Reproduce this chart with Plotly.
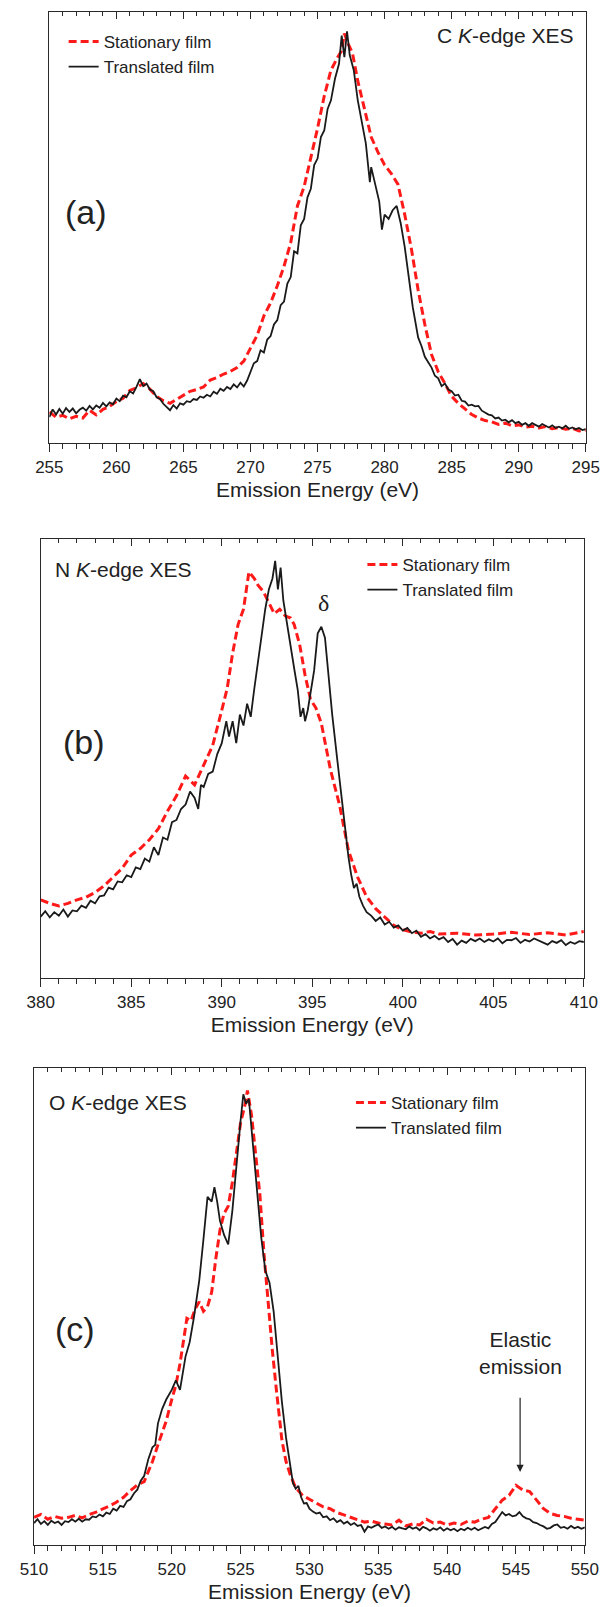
import plotly.graph_objects as go

# ---------------- Data (y in % of panel height) -------------
# Panel (a): C K-edge XES -- translated film as (energy, intensity) pairs
A_TRANS = [
    (255, 6.0), (255.25, 7.8), (255.5, 6.6), (255.75, 7.9), (256, 6.8), (256.25, 8.1), (256.5, 7.2),
    (256.75, 8.0), (257, 6.9), (257.25, 7.7), (257.5, 8.2), (257.75, 7.5), (258, 8.6), (258.25, 7.8),
    (258.5, 8.7), (258.75, 8.2), (259, 9.3), (259.25, 8.5), (259.5, 9.4), (259.75, 9.0), (260, 10.3),
    (260.25, 9.7), (260.5, 11.0), (260.75, 10.6), (261, 12.0), (261.25, 11.5), (261.5, 13.0),
    (261.75, 14.8), (262, 13.2), (262.25, 13.8), (262.5, 12.4), (262.75, 12.0), (263, 10.6),
    (263.25, 10.2), (263.5, 9.1), (263.75, 8.4), (264, 7.6), (264.25, 8.8), (264.5, 8.0),
    (264.75, 9.2), (265, 8.9), (265.25, 9.7), (265.5, 9.5), (265.75, 10.2), (266, 10.0),
    (266.25, 10.8), (266.5, 10.5), (266.75, 11.2), (267, 10.8), (267.25, 11.9), (267.5, 11.4),
    (267.75, 12.6), (268, 12.1), (268.25, 13.0), (268.5, 12.5), (268.75, 13.6), (269, 12.9),
    (269.25, 14.0), (269.5, 13.1), (269.75, 14.5), (270, 16.5), (270.25, 18.5), (270.5, 19.0),
    (270.75, 21.5), (271, 21.0), (271.25, 24.0), (271.5, 24.8), (271.75, 27.5), (272, 28.5),
    (272.25, 32.0), (272.5, 32.8), (272.75, 37.0), (273, 38.5), (273.25, 44.5), (273.5, 44.0),
    (273.75, 50.5), (274, 52.0), (274.25, 57.0), (274.5, 59.0), (274.75, 64.5), (275, 66.0),
    (275.25, 71.0), (275.5, 72.5), (275.75, 77.5), (276, 79.5), (276.3, 84.5), (276.6, 88.0),
    (276.8, 94.5), (277, 89.5), (277.2, 95.5), (277.4, 90.0), (277.7, 86.5), (278, 79.5),
    (278.3, 74.0), (278.6, 69.5), (278.9, 60.5), (279, 64.0), (279.3, 60.0), (279.6, 56.0),
    (279.8, 49.5), (280, 53.0), (280.3, 52.0), (280.6, 54.0), (280.9, 55.0), (281.2, 51.0),
    (281.5, 45.5), (281.8, 39.0), (282.1, 31.5), (282.5, 24.5), (282.75, 22.5), (283, 20.0),
    (283.25, 18.8), (283.5, 17.5), (283.75, 15.6), (284, 15.0), (284.25, 13.2), (284.5, 13.8),
    (284.75, 12.4), (285, 12.0), (285.25, 11.0), (285.5, 11.2), (285.75, 9.8), (286, 9.6),
    (286.25, 8.7), (286.5, 8.9), (286.75, 8.5), (287, 8.6), (287.25, 7.5), (287.5, 7.1),
    (287.75, 6.6), (288, 6.4), (288.25, 5.7), (288.5, 5.9), (288.75, 5.2), (289, 5.4),
    (289.25, 4.8), (289.5, 5.3), (289.75, 4.6), (290, 4.9), (290.25, 4.2), (290.5, 4.6),
    (290.75, 4.0), (291, 4.6), (291.25, 4.1), (291.5, 3.8), (291.75, 4.4), (292, 4.0),
    (292.25, 3.6), (292.5, 4.1), (292.75, 3.5), (293, 3.8), (293.25, 3.4), (293.5, 4.0),
    (293.75, 3.3), (294, 3.6), (294.25, 3.2), (294.5, 3.5), (294.75, 3.0), (295, 3.2),
]
A_X_STAT = [255, 255.5, 256, 256.5, 257, 257.5, 258, 258.5, 259, 259.5, 260, 260.5, 261, 261.5, 262,
            262.5, 263, 263.5, 264, 264.5, 265, 265.5, 266, 266.5, 267, 267.5, 268, 268.5, 269, 269.5,
            270, 270.5, 271, 271.5, 272, 272.5, 273, 273.5, 274, 274.5, 275, 275.5, 276, 276.5, 276.8,
            277, 277.3, 277.6, 278, 278.5, 279, 279.5, 280, 280.5, 281, 281.5, 282, 282.5, 283, 283.5,
            284, 284.5, 285, 285.5, 286, 286.5, 287, 287.5, 288, 288.5, 289, 289.5, 290, 290.5, 291,
            291.5, 292, 292.5, 293, 293.5, 294, 294.5, 295]
A_Y_STAT = [7.2, 6.0, 6.4, 5.6, 6.2, 5.8, 7.6, 6.5, 7.8, 8.5, 9.6, 10.4, 12.2, 12.8, 13.8,
            12.5, 10.8, 9.8, 9.2, 10.2, 11.0, 12.0, 12.4, 13.0, 14.6, 15.2, 16.0, 16.6, 17.5, 19.0,
            22.0, 25.0, 29.5, 32.5, 36.5, 41.0, 46.5, 55.0, 59.5, 66.0, 73.0, 80.5, 86.5, 89.5, 91.0,
            95.0, 92.5, 90.5, 84.0, 77.5, 71.0, 67.5, 64.5, 62.5, 60.0, 53.0, 45.0, 35.5, 27.5, 20.5,
            16.5, 13.8, 10.8, 9.2, 7.8, 6.6, 5.8, 5.2, 4.9, 4.3, 4.6, 4.0, 4.2, 3.7, 3.9,
            3.5, 3.8, 3.3, 3.6, 3.2, 3.4, 2.8, 3.0]

# Panel (b): N K-edge XES
B_TRANS = [
    (380, 14.0), (380.25, 15.2), (380.5, 13.8), (380.75, 15.0), (381, 14.2), (381.25, 15.6),
    (381.5, 14.0), (381.75, 15.4), (382, 15.2), (382.25, 16.5), (382.5, 16.0), (382.75, 17.6),
    (383, 17.0), (383.25, 18.6), (383.5, 18.8), (383.75, 20.6), (384, 20.2), (384.25, 22.0),
    (384.5, 21.8), (384.75, 23.4), (385, 23.0), (385.25, 25.2), (385.5, 24.8), (385.75, 27.2),
    (386, 26.5), (386.25, 29.8), (386.5, 28.0), (386.75, 32.0), (387, 31.5), (387.25, 35.5),
    (387.5, 36.0), (387.75, 38.5), (388, 39.5), (388.25, 42.5), (388.5, 41.0), (388.7, 38.5),
    (388.85, 44.0), (389, 43.5), (389.25, 46.5), (389.5, 47.0), (389.75, 51.0), (390, 53.5),
    (390.25, 58.5), (390.4, 55.0), (390.6, 58.5), (390.8, 53.5), (391, 60.0), (391.2, 57.5),
    (391.4, 62.5), (391.6, 59.5), (391.8, 66.0), (392, 71.5), (392.2, 78.0), (392.4, 84.0),
    (392.6, 88.5), (392.8, 91.0), (392.95, 95.0), (393.1, 88.5), (393.25, 93.5), (393.4, 86.0),
    (393.6, 80.5), (393.8, 75.0), (394, 70.5), (394.2, 65.5), (394.35, 59.5), (394.5, 61.5),
    (394.6, 58.5), (394.75, 61.0), (394.9, 65.0), (395.1, 70.0), (395.3, 78.5), (395.5, 80.0),
    (395.7, 77.5), (395.9, 68.0), (396.1, 60.0), (396.4, 49.0), (396.7, 38.5), (396.85, 32.0),
    (397, 27.5), (397.15, 23.5), (397.3, 20.5), (397.45, 21.5), (397.6, 18.5), (397.8, 16.5),
    (398, 15.0), (398.25, 14.2), (398.5, 13.0), (398.75, 13.8), (399, 12.2), (399.25, 12.8),
    (399.5, 11.5), (399.75, 12.0), (400, 10.8), (400.25, 11.4), (400.5, 10.2), (400.75, 10.8),
    (401, 9.4), (401.25, 10.0), (401.5, 9.0), (401.75, 9.6), (402, 8.8), (402.25, 9.3),
    (402.5, 8.2), (402.75, 8.9), (403, 7.6), (403.25, 8.5), (403.5, 8.0), (403.75, 8.9),
    (404, 8.4), (404.25, 9.0), (404.5, 8.2), (404.75, 8.8), (405, 8.3), (405.25, 9.0),
    (405.5, 7.9), (405.75, 8.7), (406, 8.6), (406.25, 9.1), (406.5, 8.0), (406.75, 8.7),
    (407, 8.3), (407.25, 9.0), (407.5, 8.5), (407.75, 8.1), (408, 7.6), (408.25, 8.4),
    (408.5, 8.0), (408.75, 8.6), (409, 7.5), (409.25, 8.2), (409.5, 7.8), (409.75, 8.4), (410, 8.2),
]
B_X_STAT = [380, 380.5, 381, 381.5, 382, 382.5, 383, 383.5, 384, 384.5, 385, 385.5, 386, 386.5, 387,
            387.5, 388, 388.5, 389, 389.5, 390, 390.3, 390.6, 390.9, 391.2, 391.5, 391.8, 392, 392.3,
            392.6, 392.9, 393.2, 393.5, 393.8, 394, 394.3, 394.6, 394.9, 395.2, 395.5, 395.8, 396,
            396.5, 397, 397.5, 398, 398.5, 399, 399.5, 400, 400.5, 401, 401.5, 402, 403, 404, 405,
            406, 407, 408, 409, 410]
B_Y_STAT = [17.8, 17.0, 16.4, 17.0, 17.8, 18.4, 19.5, 21.0, 23.0, 25.0, 28.0, 29.5, 31.5, 34.0, 38.0,
            41.5, 46.0, 44.0, 48.5, 53.0, 61.0, 66.0, 74.0, 80.5, 84.0, 92.5, 91.0, 89.5, 88.0,
            85.5, 83.0, 84.0, 82.5, 82.0, 80.5, 76.0, 69.0, 63.5, 61.5, 58.0, 52.0, 47.5,
            39.5, 29.0, 23.0, 18.5, 15.8, 13.8, 12.0, 11.0, 10.5, 10.2, 10.6, 10.0, 10.2, 9.8, 10.0,
            10.4, 9.9, 10.3, 9.8, 10.6]

# Panel (c): O K-edge XES
C_TRANS = [
    (510, 4.6), (510.25, 5.4), (510.5, 4.4), (510.75, 5.0), (511, 4.2), (511.25, 5.1), (511.5, 4.6),
    (511.75, 4.9), (512, 4.2), (512.25, 5.0), (512.5, 4.8), (512.75, 5.4), (513, 4.9), (513.25, 5.5),
    (513.5, 4.9), (513.75, 5.4), (514, 5.3), (514.25, 6.0), (514.5, 5.8), (514.75, 6.4), (515, 6.0),
    (515.25, 6.8), (515.5, 6.5), (515.75, 7.6), (516, 7.2), (516.25, 8.2), (516.5, 8.0),
    (516.75, 9.2), (517, 9.6), (517.25, 10.8), (517.5, 11.6), (517.75, 13.5), (518, 14.5),
    (518.3, 18.0), (518.6, 20.5), (518.8, 21.0), (519, 25.5), (519.3, 28.5), (519.6, 30.5),
    (520, 32.5), (520.3, 34.5), (520.6, 32.5), (521, 39.5), (521.3, 42.5), (521.6, 47.5),
    (522, 55.5), (522.3, 64.0), (522.6, 73.0), (522.9, 72.0), (523.1, 75.0), (523.3, 72.0),
    (523.5, 68.0), (523.8, 65.0), (524.1, 63.0), (524.4, 70.0), (524.7, 80.0), (525, 89.0),
    (525.2, 94.5), (525.4, 92.5), (525.6, 93.5), (525.9, 84.0), (526.2, 74.0), (526.5, 64.5),
    (526.8, 57.5), (527.1, 55.0), (527.4, 49.0), (527.7, 39.5), (528, 30.0), (528.3, 22.5),
    (528.6, 16.5), (528.8, 13.0), (529, 11.8), (529.2, 12.4), (529.4, 10.0), (529.6, 8.7),
    (529.8, 8.8), (530, 7.6), (530.25, 7.0), (530.5, 6.6), (530.75, 6.8), (531, 5.8),
    (531.25, 6.0), (531.5, 5.2), (531.75, 5.6), (532, 4.8), (532.25, 5.2), (532.5, 4.5),
    (532.75, 4.9), (533, 4.2), (533.25, 4.6), (533.5, 4.0), (533.75, 4.2), (534, 2.8),
    (534.25, 3.9), (534.5, 3.6), (534.75, 4.0), (535, 4.3), (535.25, 3.6), (535.5, 3.9),
    (535.75, 3.4), (536, 3.8), (536.25, 3.2), (536.5, 3.7), (536.75, 3.5), (537, 3.3),
    (537.25, 3.9), (537.5, 3.4), (537.75, 3.7), (538, 3.1), (538.25, 3.8), (538.5, 3.5),
    (538.75, 3.0), (539, 3.5), (539.25, 3.2), (539.5, 3.7), (539.75, 3.0), (540, 3.5),
    (540.25, 3.1), (540.5, 3.4), (540.75, 2.9), (541, 3.4), (541.25, 3.1), (541.5, 3.6),
    (541.75, 3.2), (542, 3.6), (542.25, 3.1), (542.5, 3.4), (542.75, 3.8), (543, 3.5),
    (543.25, 4.4), (543.5, 4.8), (543.75, 5.8), (544, 6.9), (544.25, 6.2), (544.5, 6.5),
    (544.75, 6.0), (545, 6.2), (545.25, 6.9), (545.5, 6.0), (545.75, 5.6), (546, 5.4),
    (546.25, 4.8), (546.5, 4.6), (546.75, 4.2), (547, 3.9), (547.25, 3.4), (547.5, 3.6),
    (547.75, 4.1), (548, 4.3), (548.25, 3.6), (548.5, 3.8), (548.75, 3.4), (549, 4.0),
    (549.25, 3.5), (549.5, 3.8), (549.75, 3.4), (550, 3.7),
]
C_X_STAT = [510, 510.5, 511, 511.5, 512, 512.5, 513, 513.5, 514, 514.5, 515, 515.5, 516, 516.5, 517,
            517.5, 518, 518.3, 518.6, 519, 519.3, 519.6, 520, 520.3, 520.6, 520.9, 521.1, 521.4, 521.7,
            522, 522.3, 522.6, 522.9, 523.2, 523.5, 523.8, 524.1, 524.4, 524.7, 525, 525.3, 525.5,
            525.8, 526.1, 526.4, 526.7, 527, 527.3, 527.6, 528, 528.3, 528.6, 529, 529.5, 530, 530.5,
            531, 531.5, 532, 532.5, 533, 533.5, 534, 534.5, 535, 535.5, 536, 536.5, 537, 537.5, 538,
            538.5, 539, 539.5, 540, 540.5, 541, 541.5, 542, 542.5, 543, 543.5, 544, 544.5, 545, 545.5,
            546, 546.5, 547, 547.5, 548, 548.5, 549, 549.5, 550]
C_Y_STAT = [5.8, 6.4, 5.4, 6.0, 5.6, 5.8, 6.2, 5.7, 6.4, 6.9, 7.6, 8.2, 9.0, 10.0, 11.4,
            12.6, 13.3, 15.5, 17.5, 21.0, 23.5, 26.0, 30.5, 33.5, 38.0, 43.5, 47.5, 47.0, 49.5,
            51.0, 49.0, 50.0, 53.0, 60.0, 66.0, 69.5, 71.0, 76.0, 82.0, 88.5, 92.0, 95.3,
            90.0, 81.0, 73.5, 61.0, 50.0, 41.0, 32.5, 22.0, 17.5, 14.8, 12.0, 10.4, 9.6, 8.8,
            8.0, 7.6, 6.8, 6.3, 5.8, 5.4, 4.8, 5.0, 4.6, 4.4, 4.2, 5.2, 4.0, 4.4, 4.2,
            5.4, 4.6, 4.8, 4.2, 4.6, 4.3, 5.0, 4.8, 5.4, 5.8, 7.6, 9.4, 10.4, 12.5, 11.5,
            11.2, 9.4, 7.6, 6.6, 6.2, 6.0, 5.6, 5.4, 5.2]

PANELS = [
    dict(label="(a)", edge="C", trans=A_TRANS, x_stat=A_X_STAT, y_stat=A_Y_STAT, xrange=[255, 295]),
    dict(label="(b)", edge="N", trans=B_TRANS, x_stat=B_X_STAT, y_stat=B_Y_STAT, xrange=[380, 410]),
    dict(label="(c)", edge="O", trans=C_TRANS, x_stat=C_X_STAT, y_stat=C_Y_STAT, xrange=[510, 550]),
]
for p in PANELS:
    assert len(p["x_stat"]) == len(p["y_stat"]), p["label"]

SERIES_NAMES = ["Stationary film", "Translated film"]
X_TITLE = "Emission Energy (eV)"

# ---------------- Layout geometry (pixels of the 616x1607 page) ----------------
W, H = 616, 1607
BOXES = [(37, 599, 12, 443), (28, 597, 539, 978), (21, 598, 1068, 1545)]  # l, r, t, b
LEGEND_POS = [(52, 24), (365, 547), (353, 1085)]

FONT = "Liberation Sans, Arial, Helvetica, sans-serif"
RED = "#ff1a1a"
BLACK = "#1a1a1a"
AXCOL = "#2a2a2a"
TXT = "#222"

fig = go.Figure()
layout = dict(width=W, height=H, margin=dict(l=0, r=0, t=0, b=0),
              paper_bgcolor="white", plot_bgcolor="white", showlegend=True,
              font=dict(family=FONT, color=TXT))

annotations = []
for i, p in enumerate(PANELS):
    n = i + 1
    sfx = "" if n == 1 else str(n)
    xa, ya = "x" + sfx, "y" + sfx
    xtop = "x" + str(n + 3)
    leg = "legend" + sfx
    l, r, t, b = BOXES[i]
    tx = [e for e, _ in p["trans"]]
    ty = [v for _, v in p["trans"]]

    fig.add_trace(go.Scatter(x=p["x_stat"], y=p["y_stat"], mode="lines", name=SERIES_NAMES[0],
                             line=dict(color=RED, width=3, dash="8px,4px"),
                             xaxis=xa, yaxis=ya, legend=leg))
    fig.add_trace(go.Scatter(x=tx, y=ty, mode="lines", name=SERIES_NAMES[1],
                             line=dict(color=BLACK, width=1.8),
                             xaxis=xa, yaxis=ya, legend=leg))
    # transparent copy bound to the top (mirror) axis so that axis is always drawn
    fig.add_trace(go.Scatter(x=tx, y=ty, mode="lines", showlegend=False, hoverinfo="skip",
                             line=dict(color="rgba(0,0,0,0)", width=0), opacity=0,
                             xaxis=xtop, yaxis=ya))

    layout["xaxis" + sfx] = dict(
        domain=[l / W, r / W], anchor=ya, range=p["xrange"], showgrid=False, zeroline=False,
        showline=True, linecolor=AXCOL, linewidth=1.3, mirror=True,
        ticks="outside", ticklen=8, tickwidth=1.3, tickcolor=AXCOL, dtick=5, tick0=0,
        minor=dict(dtick=1, ticks="outside", ticklen=4.5, tickwidth=1.2, tickcolor=AXCOL),
        tickfont=dict(family=FONT, size=17, color=TXT),
        title=dict(text=X_TITLE, font=dict(family=FONT, size=21, color=TXT), standoff=6),
    )
    layout["yaxis" + sfx] = dict(
        domain=[1 - b / H, 1 - t / H], anchor=xa, range=[0, 100], showgrid=False, zeroline=False,
        showline=True, linecolor=AXCOL, linewidth=1.3, mirror=True,
        ticks="", showticklabels=False,
    )
    # top axis with inward ticks
    layout["xaxis" + str(n + 3)] = dict(
        overlaying=xa, anchor=ya, side="top", range=p["xrange"],
        showgrid=False, zeroline=False, showline=False, showticklabels=False,
        ticks="inside", ticklen=7, tickwidth=1.3, tickcolor=AXCOL, dtick=5, tick0=0,
        minor=dict(dtick=1, ticks="inside", ticklen=4, tickwidth=1.2, tickcolor=AXCOL),
    )

    lx, ly = LEGEND_POS[i]
    layout[leg] = dict(x=lx / W, y=1 - ly / H, xanchor="left", yanchor="top",
                       xref="paper", yref="paper", bgcolor="rgba(0,0,0,0)",
                       font=dict(family=FONT, size=17, color=TXT),
                       tracegroupgap=0, itemwidth=30)

    lab_pos = [(51, 212), (49, 742), (41, 1329)][i]
    annotations.append(dict(text=p["label"], x=lab_pos[0] / W, y=1 - lab_pos[1] / H,
                            xref="paper", yref="paper", xanchor="left", yanchor="middle",
                            showarrow=False, font=dict(family=FONT, size=34, color=TXT)))
    edge_txt = f"{p['edge']} <i>K</i>-edge XES"
    if i == 0:
        annotations.append(dict(text=edge_txt, x=589 / W, y=1 - 36 / H, xref="paper", yref="paper",
                                xanchor="right", yanchor="middle", showarrow=False,
                                font=dict(family=FONT, size=21, color=TXT)))
    else:
        ex, ey = [(41, 569), (35, 1102)][i - 1]
        annotations.append(dict(text=edge_txt, x=ex / W, y=1 - ey / H, xref="paper", yref="paper",
                                xanchor="left", yanchor="middle", showarrow=False,
                                font=dict(family=FONT, size=21, color=TXT)))

annotations.append(dict(text="δ", x=395.6, y=85.4, xref="x2", yref="y2", showarrow=False,
                        xanchor="center", yanchor="middle",
                        font=dict(family="Liberation Serif, Times New Roman, serif", size=24, color=TXT)))
annotations.append(dict(text="Elastic<br>emission", x=545.3, y=40.2, xref="x3", yref="y3",
                        showarrow=False, xanchor="center", yanchor="middle",
                        font=dict(family=FONT, size=21, color=TXT)))
annotations.append(dict(text="", x=545.3, y=15.3, ax=545.3, ay=31.2, xref="x3", yref="y3",
                        axref="x3", ayref="y3", showarrow=True, arrowhead=2, arrowsize=1.2,
                        arrowwidth=1.2, arrowcolor=TXT))

layout["annotations"] = annotations
fig.update_layout(**layout)
fig.write_html("out.html")
